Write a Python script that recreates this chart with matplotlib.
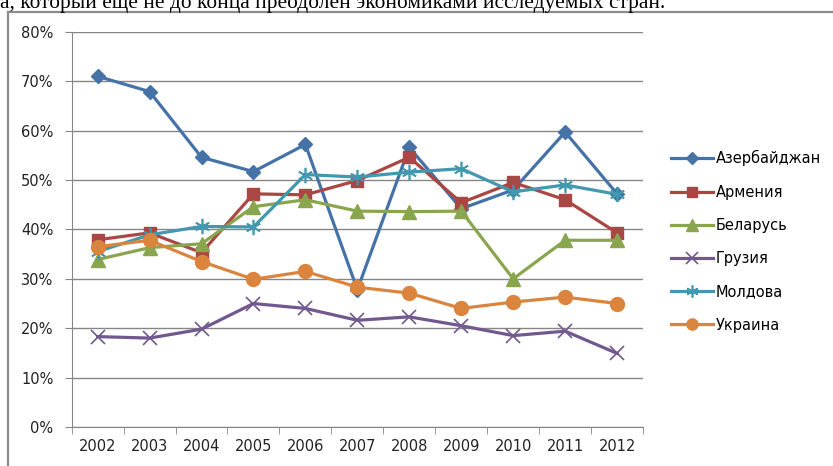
import matplotlib
matplotlib.use("Agg")
import matplotlib.pyplot as plt
from matplotlib.lines import Line2D
from matplotlib.ticker import FuncFormatter, MultipleLocator

years = ["2002", "2003", "2004", "2005", "2006", "2007", "2008", "2009", "2010", "2011", "2012"]

azerbaijan = [71.0, 67.9, 54.6, 51.7, 57.2, 27.8, 56.6, 44.2, 48.0, 59.7, 47.2]
armenia = [37.9, 39.3, 35.3, 47.2, 47.0, 49.9, 54.6, 45.4, 49.5, 46.0, 39.3]
belarus = [33.9, 36.3, 37.1, 44.6, 46.0, 43.7, 43.6, 43.7, 30.0, 37.8, 37.8]
georgia = [18.3, 18.0, 19.8, 25.0, 24.0, 21.6, 22.3, 20.5, 18.5, 19.4, 14.9]
moldova = [35.5, 38.9, 40.6, 40.5, 51.1, 50.6, 51.6, 52.3, 47.6, 49.0, 47.1]
ukraine = [36.5, 37.8, 33.5, 29.9, 31.5, 28.3, 27.1, 24.0, 25.3, 26.3, 25.0]

names = ["Азербайджан", "Армения", "Беларусь", "Грузия", "Молдова", "Украина"]

fig = plt.figure(figsize=(8.33, 4.66), dpi=100)
ax = fig.add_axes([0.086, 0.0837, 0.686, 0.848])

x = range(len(years))
gray = "#868686"

ax.plot(x, azerbaijan, color="#4572A7", lw=2.3, marker="D", ms=7.5, label=names[0])
ax.plot(x, armenia, color="#AA4643", lw=2.3, marker="s", ms=9, label=names[1])
ax.plot(x, belarus, color="#89A54E", lw=2.3, marker="^", ms=10, label=names[2])
ax.plot(x, georgia, color="#71588F", lw=2.3, marker="x", ms=10, mew=1.2, label=names[3])
ax.plot(x, moldova, color="#4198AF", lw=2.3, marker=(6, 2, 0), ms=11, mew=1.2, label=names[4])
ax.plot(x, ukraine, color="#DB843D", lw=2.3, marker="o", ms=10, label=names[5])

ax.set_xlim(-0.5, len(years) - 0.5)
ax.set_ylim(0, 80)
ax.yaxis.set_major_locator(MultipleLocator(10))
ax.yaxis.set_major_formatter(FuncFormatter(lambda v, p: "%d%%" % v))
ax.set_xticks(list(x))
ax.set_xticklabels(years)
ax.set_xticks([i - 0.5 for i in range(len(years) + 1)], minor=True)
ax.tick_params(axis="x", which="major", length=0, pad=9, labelsize=10.5, colors="#222222")
ax.tick_params(axis="x", which="minor", length=5, color=gray, direction="out")
ax.tick_params(axis="y", length=5, color=gray, direction="out", pad=8, labelsize=10.5, labelcolor="#222222")

ax.grid(axis="y", color=gray, lw=1)
ax.set_axisbelow(True)
for s in ["top", "right"]:
    ax.spines[s].set_visible(False)
for s in ["left", "bottom"]:
    ax.spines[s].set_color(gray)

ax.legend(loc="center left", bbox_to_anchor=(0.798, 0.482), bbox_transform=fig.transFigure,
          frameon=False, fontsize=10.5, labelspacing=1.25, handlelength=2.9,
          handletextpad=0.2, borderaxespad=0, markerscale=0.8)

# рамка диаграммы
fig.add_artist(Line2D([8 / 833, 1], [1 - 11.5 / 466, 1 - 11.5 / 466], color="#8c8c8c", lw=1.6))
fig.add_artist(Line2D([8 / 833, 8 / 833], [0, 1 - 11.5 / 466], color="#8c8c8c", lw=1.6))

fig.text(0.0, 1 - 7.7 / 466, "а, который еще не до конца преодолен экономиками исследуемых стран.",
         family="Liberation Serif", fontsize=15.4, va="baseline", ha="left")

fig.savefig("out.png", dpi=100)
